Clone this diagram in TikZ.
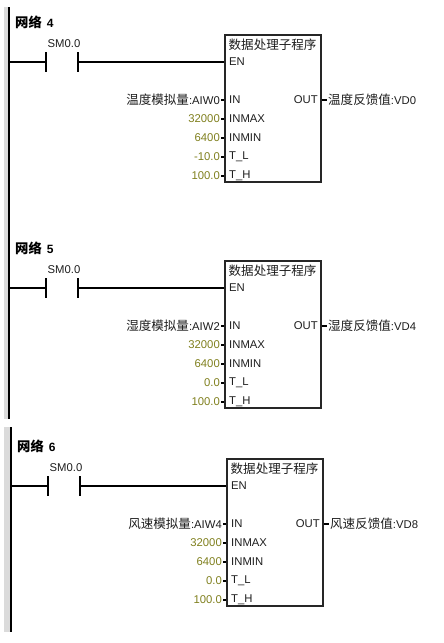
\documentclass[tikz,border=0pt]{standalone}
\usepackage{fontspec}
\setmainfont{Liberation Sans}
\newfontfamily\cjk[Scale=1.11]{Noto Sans CJK SC}
\definecolor{olivetxt}{RGB}{128,128,30}
\definecolor{inktxt}{RGB}{30,30,30}
\newcommand{\NetBlock}[7]{%
% #1 xoff, #2 yoff, #3 network no, #4 input label, #5 output label, #6 T_L value, #7 name prefix
\begin{scope}[shift={(#1,#2)}]
\node[nettitle] (#7title) at (15,22) {{\cjk\bfseries 网络}\hspace{5pt}#3};
\node[plain] (#7sm) at (64,44) {SM0.0};
\node[fblock] (#7box) at (273,108.5) {};
\coordinate (#7rail) at (9,62);
\coordinate (#7ca) at (46,62);
\coordinate (#7cb) at (78,62);
\coordinate (#7cat) at (46,52); \coordinate (#7cab) at (46,72);
\coordinate (#7cbt) at (78,52); \coordinate (#7cbb) at (78,72);
\draw[wire] (#7rail) -- (#7ca);
\draw[wire] (#7cat) -- (#7cab);
\draw[wire] (#7cbt) -- (#7cbb);
\draw[wire] (#7cb) -- (#7box.west |- #7cb);
\node[plain,anchor=west] (#7title2) at (228.5,44.5) {\cjk 数据处理子程序};
\node[pin] (#7en) at (229,62) {EN};
\node[pin] (#7in) at (229,100) {IN};
\node[pin] (#7max) at (229,119) {INMAX};
\node[pin] (#7min) at (229,138) {INMIN};
\node[pin] (#7tl) at (229,157) {T\_L};
\node[pin] (#7th) at (229,176) {T\_H};
\node[plain,anchor=east] (#7out) at (318,100) {OUT};
\node[plain,anchor=east,inner xsep=0pt] (#7li) at (220,100) {#4};
\node[val] (#7lmax) at (220,119) {32000};
\node[val] (#7lmin) at (220,138) {6400};
\node[val] (#7ltl) at (220,157) {#6};
\node[val] (#7lth) at (220,176) {100.0};
\node[plain,anchor=west,inner xsep=0pt] (#7lo) at (328,100) {#5};
\draw[stub] (#7li.east |- #7in) ++(1,0) -- (#7box.west |- #7in);
\draw[stub] (#7lmax.east |- #7max) ++(1,0) -- (#7box.west |- #7max);
\draw[stub] (#7lmin.east |- #7min) ++(1,0) -- (#7box.west |- #7min);
\draw[stub] (#7ltl.east |- #7tl) ++(1,0) -- (#7box.west |- #7tl);
\draw[stub] (#7lth.east |- #7th) ++(1,0) -- (#7box.west |- #7th);
\draw[stub] (#7box.east |- #7out) -- ++(5,0);
\end{scope}}
\begin{document}
\begin{tikzpicture}[x=1pt,y=-1pt,
  plain/.style={inner sep=0pt,font=\fontsize{11.3}{12}\selectfont,text=inktxt},
  nettitle/.style={anchor=west,inner sep=0pt,font=\fontsize{12}{13}\selectfont\bfseries,text=black},
  pin/.style={plain,anchor=west},
  val/.style={plain,anchor=east,text=olivetxt},
  fblock/.style={draw=black!85,line width=1.3pt,minimum width=96pt,minimum height=147pt,inner sep=0pt,fill=white},
  wire/.style={draw=black,line width=1.3pt},
  stub/.style={draw=black,line width=1.1pt},
  rail/.style={draw=black,line width=1.3pt},
  strip/.style={fill=black!14,draw=none}]
\useasboundingbox (0,0) rectangle (444,643);
\fill[white] (0,0) rectangle (444,643);
\fill[strip] (4,7) rectangle (8.5,419);
\fill[strip] (4,427) rectangle (10.5,632);
\coordinate (railAt) at (9,7); \coordinate (railAb) at (9,419);
\coordinate (railBt) at (11,427); \coordinate (railBb) at (11,632);
\draw[rail] (railAt) -- (railAb);
\draw[rail] (railBt) -- (railBb);
\NetBlock{0}{0}{4}{{\cjk 温度模拟量}:AIW0}{{\cjk 温度反馈值}:VD0}{-10.0}{a}
\NetBlock{0}{226}{5}{{\cjk 湿度模拟量}:AIW2}{{\cjk 湿度反馈值}:VD4}{0.0}{b}
\NetBlock{2}{424}{6}{{\cjk 风速模拟量}:AIW4}{{\cjk 风速反馈值}:VD8}{0.0}{c}
\end{tikzpicture}
\end{document}
